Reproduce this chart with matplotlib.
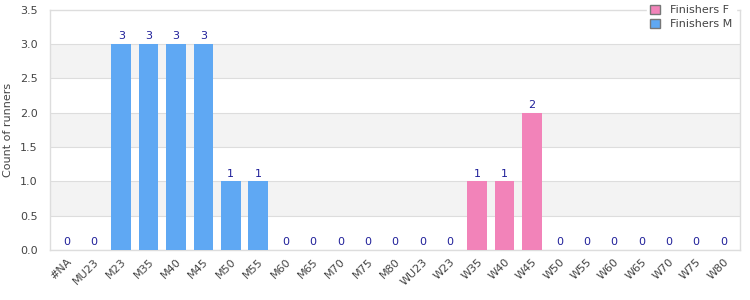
import numpy as np
import matplotlib
matplotlib.use('Agg')
import matplotlib.pyplot as plt
from matplotlib.patches import Patch

categories = ['#NA', 'MU23', 'M23', 'M35', 'M40', 'M45', 'M50', 'M55', 'M60', 'M65',
              'M70', 'M75', 'M80', 'WU23', 'W23', 'W35', 'W40', 'W45', 'W50', 'W55',
              'W60', 'W65', 'W70', 'W75', 'W80']
finishers_m = [0, 0, 3, 3, 3, 3, 1, 1, 0, 0, 0, 0, 0, 0, 0, 0, 0, 0, 0, 0, 0, 0, 0, 0, 0]
finishers_f = [0, 0, 0, 0, 0, 0, 0, 0, 0, 0, 0, 0, 0, 0, 0, 1, 1, 2, 0, 0, 0, 0, 0, 0, 0]

col_m = '#5fa8f3'
col_f = '#f283b9'
grid_col = '#dddddd'
text_col = '#444444'

fig = plt.figure(figsize=(7.5, 3), dpi=100)
ax = fig.add_axes([0.0667, 0.167, 0.92, 0.8])

x = np.arange(len(categories))
m = np.array(finishers_m)
f = np.array(finishers_f)
ax.bar(x, m, width=0.72, color=col_m, zorder=3)
ax.bar(x, f, width=0.72, bottom=m, color=col_f, zorder=3)

totals = m + f
for xi, t in zip(x, totals):
    ax.text(xi, t + 0.04, str(t), ha='center', va='bottom', fontsize=8, color='#1f1f99', zorder=4)

ax.set_ylim(0, 3.5)
ax.set_xlim(-0.6, len(categories) - 0.4)
ticks = np.arange(0, 3.51, 0.5)
ax.set_yticks(ticks)
ax.set_yticklabels(['%.1f' % t for t in ticks])
for i in range(len(ticks) - 1):
    if i % 2 == 1:
        ax.axhspan(ticks[i], ticks[i + 1], color='#f3f3f3', zorder=0, lw=0)
    ax.axhline(ticks[i], color=grid_col, lw=0.8, zorder=1)

ax.set_xticks(x)
ax.set_xticklabels(categories, rotation=45, ha='right', rotation_mode='anchor')
ax.tick_params(axis='both', length=0, labelsize=8, colors=text_col, pad=5)
ax.tick_params(axis='y', pad=9)
for s in ax.spines.values():
    s.set_color(grid_col)
    s.set_linewidth(1)
ax.set_ylabel('Count of runners', fontsize=8, color=text_col, labelpad=5)

handles = [Patch(facecolor=col_f, edgecolor='#777777', label='Finishers F'),
           Patch(facecolor=col_m, edgecolor='#777777', label='Finishers M')]
leg = ax.legend(handles=handles, loc='upper right', bbox_to_anchor=(0.994, 1.035),
                fontsize=8, frameon=True, framealpha=1, edgecolor='white',
                handlelength=0.9, handleheight=0.9, labelspacing=0.3,
                borderpad=0.3, handletextpad=0.9, borderaxespad=0)
for t in leg.get_texts():
    t.set_color(text_col)
leg.set_zorder(10)

fig.savefig('out.png', dpi=100)
